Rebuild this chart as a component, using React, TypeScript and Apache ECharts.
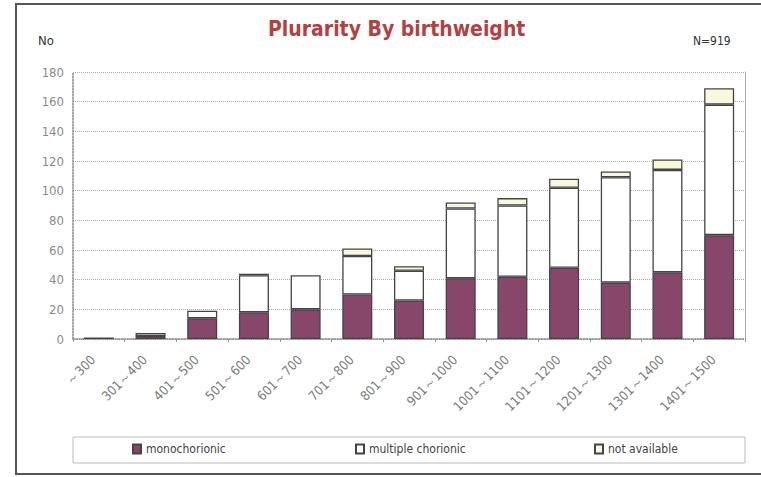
import React, { useEffect, useRef } from "react";
import * as echarts from "echarts";

const categories = [
  "～300", "301～400", "401～500", "501～600", "601～700", "701～800", "801～900",
  "901～1000", "1001～1100", "1101～1200", "1201～1300", "1301～1400", "1401～1500",
];
const monochorionic = [1, 2, 14, 18, 20, 30, 26, 41, 42, 48, 38, 45, 70];
const multipleChorionic = [0, 2, 5, 25, 23, 26, 20, 47, 48, 54, 71, 69, 88];
const notAvailable = [0, 0, 0, 1, 0, 5, 3, 4, 5, 6, 4, 7, 11];
const yTicks = [0, 20, 40, 60, 80, 100, 120, 140, 160, 180];

const FONT = "'DejaVu Sans Condensed', 'Liberation Sans Narrow', 'DejaVu Sans', sans-serif";

export default function App() {
  const ref = useRef<HTMLDivElement>(null);
  useEffect(() => {
    document.body.style.margin = "0";
    const chart = echarts.init(ref.current!, null, { renderer: "svg" });
    const nz = (a: number[]) => a.map((v) => (v === 0 ? null : v));
    const border = { borderColor: "#444", borderWidth: 1.3 };
    const legendText = { color: "#444", fontSize: 12, fontFamily: FONT };
    chart.setOption({
      animation: false,
      backgroundColor: "#ffffff",
      title: {
        text: "Plurarity By birthweight",
        left: 263,
        top: 13,
        textStyle: { color: "#b5403f", fontSize: 21, fontWeight: "bold", fontFamily: FONT },
      },
      graphic: [
        { type: "rect", shape: { x: 16, y: 4, width: 760, height: 470 }, style: { fill: "none", stroke: "#555", lineWidth: 2 } },
        { type: "text", x: 38, y: 34, style: { text: "No", fill: "#333", fontSize: 13, fontFamily: FONT } },
        { type: "text", x: 693, y: 35, style: { text: "N=919", fill: "#333", fontSize: 12, fontFamily: FONT } },
        { type: "rect", shape: { x: 73, y: 437, width: 672, height: 26 }, style: { fill: "none", stroke: "#bbb", lineWidth: 1 } },
      ],
      legend: [
        { data: ["monochorionic"], left: 132, top: 443, icon: "rect", itemWidth: 8, itemHeight: 9, itemGap: 4, textStyle: legendText, padding: 0 },
        { data: ["multiple chorionic"], left: 355, top: 443, icon: "rect", itemWidth: 8, itemHeight: 9, textStyle: legendText, padding: 0 },
        { data: ["not available"], left: 594, top: 443, icon: "rect", itemWidth: 8, itemHeight: 9, textStyle: legendText, padding: 0 },
      ],
      grid: { left: 73, right: 16, top: 72, bottom: 138 },
      xAxis: {
        type: "category",
        data: categories,
        axisLine: { lineStyle: { color: "#888", type: "dotted", width: 1.5 } },
        axisTick: { show: true, alignWithLabel: false, lineStyle: { color: "#999" }, length: 3 },
        axisLabel: { rotate: 45, color: "#7a7a7a", fontSize: 13, fontFamily: FONT, margin: 13, interval: 0, padding: [0, 8, 0, 0] },
      },
      yAxis: [
        {
          type: "value",
          min: 0,
          max: 180,
          interval: 20,
          axisLine: { show: true, lineStyle: { color: "#888", type: "dotted", width: 1.5 } },
          axisTick: { show: false },
          axisLabel: { color: "#8a8a8a", fontSize: 13, fontFamily: FONT, margin: 9, customValues: yTicks },
          splitLine: { show: true, lineStyle: { color: "#aaa", type: "dotted", width: 1 } },
        },
        {
          type: "value",
          min: 0,
          max: 180,
          interval: 20,
          position: "right",
          axisLine: { show: true, lineStyle: { color: "#999", type: "dotted", width: 1 } },
          axisTick: { show: false },
          axisLabel: { show: false },
          splitLine: { show: false },
        },
      ],
      series: [
        { name: "monochorionic", type: "bar", stack: "a", barWidth: 30, data: nz(monochorionic), itemStyle: { color: "#87476b", ...border } },
        { name: "multiple chorionic", type: "bar", stack: "a", barWidth: 30, data: nz(multipleChorionic), itemStyle: { color: "#ffffff", ...border } },
        { name: "not available", type: "bar", stack: "a", barWidth: 30, data: nz(notAvailable), itemStyle: { color: "#f8f8dc", ...border } },
      ],
    });
    return () => chart.dispose();
  }, []);
  return <div ref={ref} style={{ position: "absolute", left: 0, top: 0, width: 761, height: 477 }} />;
}
